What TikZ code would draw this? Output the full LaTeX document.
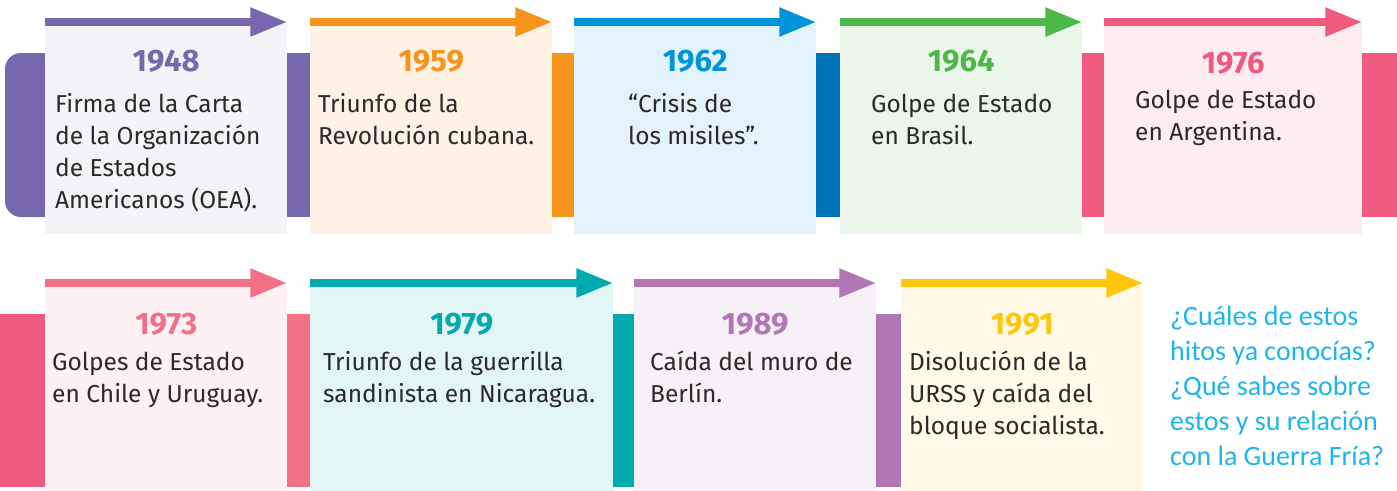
\documentclass[tikz,border=0pt]{standalone}
\usepackage{fontspec}
\setmainfont{Fira Sans}
\newfontfamily\askfont{Carlito}
\usetikzlibrary{arrows.meta,backgrounds}

\definecolor{ink}{HTML}{2B2A29}
\definecolor{purp}{HTML}{7767AD}
\definecolor{orng}{HTML}{F7941D}
\definecolor{sky}{HTML}{0095DA}
\definecolor{navy}{HTML}{0071BB}
\definecolor{grn}{HTML}{4CB848}
\definecolor{rose}{HTML}{F05A7E}
\definecolor{pinkl}{HTML}{F27187}
\definecolor{teal}{HTML}{00AAAD}
\definecolor{lilac}{HTML}{B077B4}
\definecolor{gold}{HTML}{FFC60B}
\definecolor{askcyan}{HTML}{1CB5EA}

\tikzset{
    evbox/.style = {anchor=north west, inner sep=0pt, minimum width=242pt},
    toprow/.style = {evbox, minimum height=212pt},
    botrow/.style = {evbox, minimum height=208pt},
    year/.style = {anchor=base, inner sep=0pt, font=\fontsize{31}{36}\selectfont\bfseries},
    desc/.style = {anchor=base west, inner sep=0pt, align=left, text=ink,
        font=\fontsize{24.5}{32}\selectfont},
    ask/.style = {anchor=base west, inner sep=0pt, align=left, text=askcyan,
        font=\askfont\fontsize{28}{35}\selectfont},
    timearrow/.style = {line width=8pt, -{Triangle[length=37pt,width=27pt]}}
}

\begin{document}
\begin{tikzpicture}[x=1pt,y=1pt]
    \useasboundingbox (0,0) rectangle (1397,-490);

    % upper row
    \node[toprow, fill=purp!8] (b1948) at (45,-22) {};
    \node[toprow, fill=orng!12] (b1959) at (310,-22) {};
    \node[toprow, fill=sky!11] (b1962) at (574,-22) {};
    \node[toprow, fill=grn!11] (b1964) at (840,-22) {};
    \node[toprow, fill=rose!11, minimum width=258pt] (b1976) at (1104,-22) {};

    % lower row
    \node[botrow, fill=pinkl!10] (b1973) at (45,-283) {};
    \node[botrow, fill=teal!11, minimum width=303pt] (b1979) at (310,-283) {};
    \node[botrow, fill=lilac!11] (b1989) at (634,-283) {};
    \node[botrow, fill=gold!10] (b1991) at (901,-283) {};

    \foreach \l/\r/\c in {b1948/b1959/purp, b1959/b1962/orng, b1962/b1964/navy, b1964/b1976/rose}
        \fill[\c] (\l.east |- 0,-53) rectangle (\r.west |- 0,-217);
    \foreach \l/\r/\c in {b1973/b1979/pinkl, b1979/b1989/teal, b1989/b1991/lilac}
        \fill[\c] (\l.east |- 0,-314) rectangle (\r.west |- 0,-487);
    \fill[rose] (b1976.east |- 0,-53) rectangle (1397,-217);

    \begin{scope}[on background layer]
        \fill[purp, rounded corners=16pt] (5,-53) rectangle (b1948.center |- 0,-217);
        \fill[rose] (0,-314) rectangle (b1973.center |- 0,-487);
    \end{scope}

    \foreach \n/\c in {b1948/purp, b1959/orng, b1962/sky, b1964/grn, b1976/rose,
                       b1973/pinkl, b1979/teal, b1989/lilac, b1991/gold}
        \draw[timearrow, \c] (\n.north west) -- (\n.north east);

    \node[year, text=purp] (y1948) at (b1948.north |- 0,-71) {1948};
    \node[year, text=orng] (y1959) at (b1959.north |- 0,-71) {1959};
    \node[year, text=sky] (y1962) at (b1962.north |- 0,-71) {1962};
    \node[year, text=grn] (y1964) at (b1964.north |- 0,-71) {1964};
    \node[year, text=rose] (y1976) at (b1976.north |- 0,-73) {1976};
    \node[year, text=pinkl] (y1973) at (b1973.north |- 0,-334) {1973};
    \node[year, text=teal] (y1979) at (b1979.north |- 0,-334) {1979};
    \node[year, text=lilac] (y1989) at (b1989.north |- 0,-334) {1989};
    \node[year, text=gold] (y1991) at (b1991.north |- 0,-334) {1991};

    % base anchor sits on the last line
    \node[desc] (t1948) at (55,-208) {Firma de la Carta\\de la Organización\\de Estados\\Americanos (OEA).};
    \node[desc] (t1959) at (318,-144) {Triunfo de la\\Revolución cubana.};
    \node[desc] (t1962) at (628,-144) {“Crisis de\\los misiles”.};
    \node[desc] (t1964) at (871,-144) {Golpe de Estado\\en Brasil.};
    \node[desc] (t1976) at (1135,-140) {Golpe de Estado\\en Argentina.};
    \node[desc] (t1973) at (52,-402) {Golpes de Estado\\en Chile y Uruguay.};
    \node[desc] (t1979) at (323,-402) {Triunfo de la guerrilla\\sandinista en Nicaragua.};
    \node[desc] (t1989) at (650,-402) {Caída del muro de\\Berlín.};
    \node[desc] (t1991) at (909,-434) {Disolución de la\\URSS y caída del\\bloque socialista.};

    \node[ask] (q) at (1170,-465) {¿Cuáles de estos\\hitos ya conocías?\\¿Qué sabes sobre\\estos y su relación\\con la Guerra Fría?};
\end{tikzpicture}
\end{document}
